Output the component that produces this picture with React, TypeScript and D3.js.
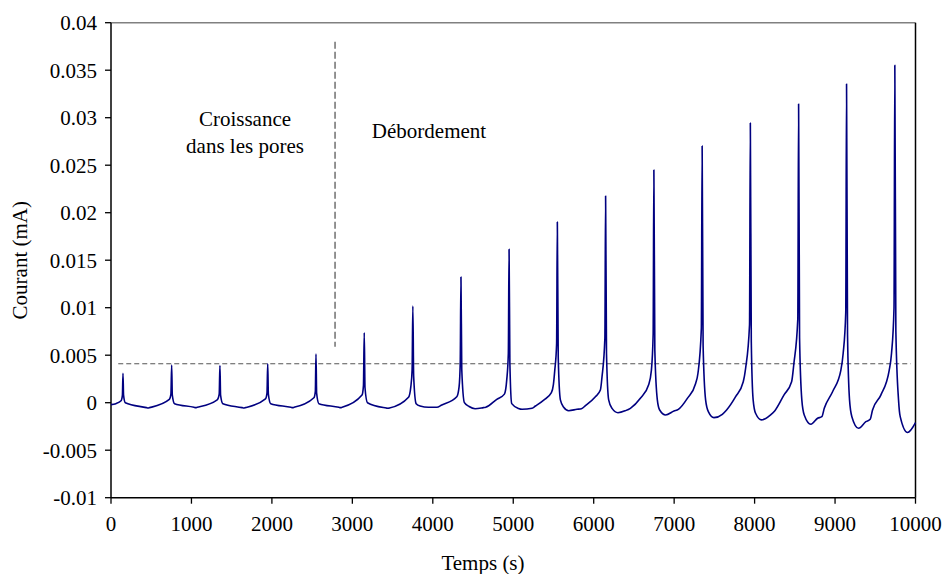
import React from "react";
import * as d3 from "d3";

const xTicks = [0, 1000, 2000, 3000, 4000, 5000, 6000, 7000, 8000, 9000, 10000];
const yTicks = [-0.01, -0.005, 0, 0.005, 0.01, 0.015, 0.02, 0.025, 0.03, 0.035, 0.04];
const yTickLabels = ["-0.01", "-0.005", "0", "0.005", "0.01", "0.015", "0.02", "0.025", "0.03", "0.035", "0.04"];

const xTitle = "Temps (s)";
const yTitle = "Courant (mA)";
const annotationLeft = ["Croissance", "dans les pores"];
const annotationRight = "Débordement";

// threshold (horizontal dashed) and phase separation (vertical dashed)
const seuilValue = 0.0041;
const seuilSpan = [90, 9940];
const separationTime = 2785;
const separationSpan = [0.0059, 0.038];

// current vs time: [time (s), current (mA)]
const courant: [number, number][] = [
  [0, -0.0002], [60, -0.0001], [125, 0.0002], [142, 0.0008], [149, 0.0031], [156, 0.0008], [178, 0.0],
  [440, -0.00052], [460, -0.00056], [480, -0.00052], [725, 0.00035], [745, 0.0009], [754, 0.00397], [762, 0.0008], [790, -0.0001],
  [1032, -0.00048], [1052, -0.00052], [1072, -0.00048], [1320, 0.0003], [1345, 0.0009], [1354, 0.0039], [1362, 0.0008], [1390, -0.0001],
  [1630, -0.00052], [1650, -0.00056], [1670, -0.00052], [1920, 0.0004], [1939, 0.001], [1948, 0.0041], [1956, 0.0009], [1985, -0.0001],
  [2237, -0.00048], [2257, -0.00052], [2277, -0.00048], [2522, 0.00052], [2540, 0.0012], [2548, 0.00513], [2556, 0.001], [2584, -0.0001],
  [2833, -0.00048], [2853, -0.00052], [2873, -0.00048], [3120, 0.0008], [3138, 0.0018], [3148, 0.00737], [3157, 0.0016], [3188, 0.0],
  [3421, -0.00056], [3441, -0.00059], [3461, -0.00056], [3698, 0.00057], [3727, 0.0017], [3743, 0.0035], [3752, 0.01018], [3762, 0.0028], [3793, -0.0001],
  [3842, -0.00035], [3946, -0.00048], [4050, -0.00048], [4112, -0.00024], [4298, 0.00063], [4327, 0.0017], [4341, 0.0042],
  [4350, 0.01323], [4360, 0.0035], [4393, 0.0], [4451, -0.0004], [4526, -0.00063], [4629, -0.00052], [4658, -0.00048],
  [4795, 0.00035], [4890, 0.0009], [4919, 0.0024], [4939, 0.0052],
  [4948, 0.01615], [4958, 0.0042], [4981, -0.0001], [5065, -0.0006], [5109, -0.00069], [5234, -0.00059], [5276, -0.00035],
  [5379, 0.00028], [5474, 0.00105], [5499, 0.0019], [5516, 0.0034], [5539, 0.0062],
  [5548, 0.01902], [5559, 0.0048], [5586, 0.0003], [5627, -0.00048], [5689, -0.00084], [5793, -0.00069], [5847, -0.00063],
  [5897, -0.00031], [6021, 0.00063], [6083, 0.00133], [6103, 0.0027], [6139, 0.0068],
  [6148, 0.02175], [6159, 0.0052], [6186, 0.0003], [6228, -0.0006], [6302, -0.00105], [6394, -0.00084], [6456, -0.00059],
  [6580, 0.00046], [6683, 0.0019], [6717, 0.0034], [6739, 0.0072],
  [6748, 0.02449], [6760, 0.0055], [6791, 0.0003], [6820, -0.00077], [6894, -0.00129], [6998, -0.00087], [7052, -0.0007],
  [7164, 0.00046], [7267, 0.00203], [7296, 0.0031], [7338, 0.0078],
  [7348, 0.02702], [7360, 0.006], [7391, 0.0003], [7425, -0.00094], [7495, -0.00157], [7599, -0.00122], [7652, -0.00077],
  [7764, 0.00063], [7859, 0.0022], [7888, 0.0036], [7937, 0.0082],
  [7947, 0.02944], [7959, 0.0064], [7982, 0.0003], [8012, -0.00111], [8087, -0.00181], [8199, -0.00129], [8252, -0.00084],
  [8364, 0.0008], [8460, 0.0022], [8488, 0.0041], [8537, 0.0088],
  [8547, 0.03144], [8559, 0.0068], [8587, 0.0003], [8617, -0.00129], [8700, -0.00227], [8783, -0.00164], [8836, -0.00147],
  [8866, -0.00059], [8969, 0.00115], [9072, 0.0034], [9101, 0.0052], [9133, 0.0095],
  [9143, 0.03355], [9155, 0.0072], [9180, 0.0003], [9209, -0.00147], [9292, -0.00269], [9383, -0.002], [9437, -0.00174],
  [9466, -0.00077], [9569, 0.0008], [9673, 0.0034], [9702, 0.0052], [9733, 0.01],
  [9743, 0.03552], [9756, 0.0075], [9789, 0.0003], [9810, -0.00147], [9901, -0.00314], [10000, -0.0021],
];

export default function App() {
  const W = 945;
  const H = 574;
  const left = 111;
  const right = 915.5;
  const top = 22.7;
  const bottom = 497.7;
  const font = "Liberation Serif, DejaVu Serif, serif";
  const fs = 21;

  const x = d3.scaleLinear().domain([0, 10000]).range([left, right]);
  const y = d3.scaleLinear().domain([-0.01, 0.04]).range([bottom, top]);
  const line = d3
    .line<[number, number]>()
    .x((d) => x(d[0]))
    .y((d) => y(d[1]))
    .curve(d3.curveMonotoneX);

  const txt = { fontFamily: font, fontSize: fs, fill: "#000" } as React.CSSProperties;

  return (
    <svg
      width={W}
      height={H}
      style={{ position: "absolute", left: 0, top: 0, background: "#fff" }}
    >
      <rect x={0} y={0} width={W} height={H} fill="#fff" />
      {/* frame */}
      <line x1={left} y1={top} x2={right} y2={top} stroke="#808080" strokeWidth={1.5} />
      <line x1={right} y1={top} x2={right} y2={bottom} stroke="#000" strokeWidth={1.5} />
      <line x1={left} y1={top} x2={left} y2={bottom} stroke="#000" strokeWidth={1.5} />
      <line x1={left} y1={bottom} x2={right} y2={bottom} stroke="#000" strokeWidth={1.5} />

      {/* y ticks */}
      {yTicks.map((v, i) => (
        <g key={"y" + i}>
          <line x1={left - 6} x2={left} y1={y(v)} y2={y(v)} stroke="#000" strokeWidth={1.3} />
          <text x={left - 14} y={y(v)} dy="0.35em" textAnchor="end" style={txt}>
            {yTickLabels[i]}
          </text>
        </g>
      ))}
      {/* x ticks */}
      {xTicks.map((t, i) => (
        <g key={"x" + i}>
          <line x1={x(t)} x2={x(t)} y1={bottom} y2={bottom + 6} stroke="#000" strokeWidth={1.3} />
          <text x={x(t)} y={bottom + 26} dy="0.35em" textAnchor="middle" style={txt}>
            {d3.format("d")(t)}
          </text>
        </g>
      ))}

      {/* axis titles */}
      <text x={483} y={563} dy="0.35em" textAnchor="middle" style={txt}>
        {xTitle}
      </text>
      <text
        transform={`translate(20, ${(top + bottom) / 2}) rotate(-90)`}
        dy="0.35em"
        textAnchor="middle"
        style={txt}
      >
        {yTitle}
      </text>

      {/* reference lines */}
      <line
        x1={x(seuilSpan[0])}
        x2={x(seuilSpan[1])}
        y1={y(seuilValue)}
        y2={y(seuilValue)}
        stroke="#555"
        strokeWidth={1.2}
        strokeDasharray="5,3"
      />
      <line
        x1={x(separationTime)}
        x2={x(separationTime)}
        y1={y(separationSpan[1])}
        y2={y(separationSpan[0])}
        stroke="#888"
        strokeWidth={1.8}
        strokeDasharray="7,3"
      />

      {/* annotations */}
      <text x={245} y={119} dy="0.35em" textAnchor="middle" style={txt}>
        {annotationLeft[0]}
      </text>
      <text x={245} y={146} dy="0.35em" textAnchor="middle" style={txt}>
        {annotationLeft[1]}
      </text>
      <text x={429} y={131} dy="0.35em" textAnchor="middle" style={txt}>
        {annotationRight}
      </text>

      {/* data */}
      <path d={line(courant) ?? ""} fill="none" stroke="#000080" strokeWidth={1.6} strokeLinejoin="round" />
    </svg>
  );
}
